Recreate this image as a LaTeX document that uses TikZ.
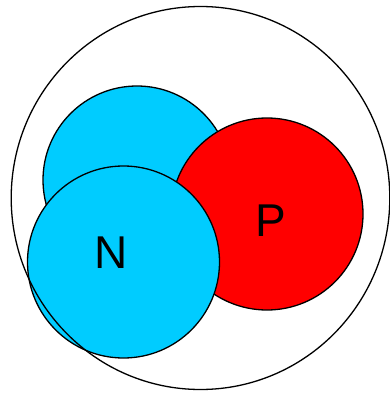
\documentclass[tikz,border=0pt]{standalone}
\usepackage{fontspec}
\setmainfont{Liberation Sans}
\definecolor{cyanball}{HTML}{00CCFF}
\definecolor{redball}{HTML}{FF0000}
\begin{document}
\begin{tikzpicture}[x=1pt,y=-1pt,
  ball/.style={draw=black,line width=1.3pt},
  lbl/.style={font=\fontsize{46}{46}\selectfont,inner sep=0pt}]
\useasboundingbox (0,0) rectangle (390,393);
\fill[white] (0,0) rectangle (390,393);
\draw[ball,fill=cyanball] (137,180) circle[radius=94];
\draw[ball,fill=redball] (267,214) circle[radius=96];
\draw[ball,fill=cyanball] (123.5,262) circle[radius=96];
\draw[ball] (200.5,198) ellipse[x radius=189.3,y radius=191.5];
\node[lbl] (N) at (111.5,253) {N};
\node[lbl] (P) at (270.5,221) {P};
\end{tikzpicture}
\end{document}
